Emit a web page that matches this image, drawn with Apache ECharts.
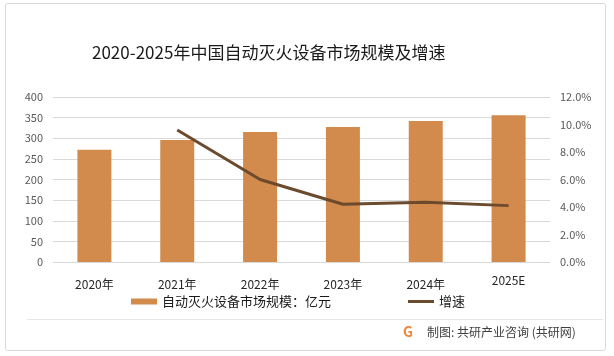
<!DOCTYPE html>
<html><head><meta charset="utf-8">
<script src="https://cdn.jsdelivr.net/npm/echarts@6/dist/echarts.min.js"></script>
<style>html,body{margin:0;padding:0;background:#fff}#c{width:614px;height:356px}</style>
</head><body><div id="c"></div>
<script>
var categories = ['2020年','2021年','2022年','2023年','2024年','2025E'];
var marketSize = [272, 296, 315, 327, 342, 356];
var growthRate = [null, 9.6, 6.0, 4.2, 4.35, 4.1];
var leftTicks = {min:0, max:400, interval:50};
var rightTicks = {min:0, max:12, interval:2};

var chart = echarts.init(document.getElementById('c'), null, {renderer:'canvas'});
var FONT = '"Noto Sans CJK SC","Noto Sans",sans-serif';
var catData = categories.map(function(c){
  return c === '2025E' ? {value:c, textStyle:{lineHeight:13}} : c;
});
chart.setOption({
  animation:false,
  backgroundColor:'#fff',
  textStyle:{fontFamily:FONT},
  title:{text:'2020-2025年中国自动灭火设备市场规模及增速', left:87, top:39,
    textStyle:{fontSize:17, fontWeight:'normal', color:'#1a1a1a', fontFamily:FONT}},
  grid:{left:53, right:64, top:97, bottom:94},
  legend:{left:131, top:295, padding:0, itemGap:77, itemWidth:26, itemHeight:6,
    textStyle:{fontSize:13, color:'#1a1a1a', fontFamily:FONT},
    data:[{name:'自动灭火设备市场规模：亿元', icon:'rect'},
          {name:'增速', icon:'path://M0,0L26,0L26,3L0,3Z'}]},
  xAxis:{type:'category', data:catData,
    axisLine:{show:false}, axisTick:{show:false},
    axisLabel:{margin:12, fontSize:12, color:'#262626', lineHeight:20, fontFamily:FONT}},
  yAxis:[
    {type:'value', min:leftTicks.min, max:leftTicks.max, interval:leftTicks.interval,
     axisLine:{show:false}, axisTick:{show:false},
     axisLabel:{margin:10, fontSize:11, color:'#595959', fontFamily:FONT},
     splitLine:{lineStyle:{color:'#d9d9d9', width:1}}},
    {type:'value', min:rightTicks.min, max:rightTicks.max, interval:rightTicks.interval,
     axisLine:{show:false}, axisTick:{show:false}, splitLine:{show:false},
     axisLabel:{margin:10, fontSize:11, color:'#595959', fontFamily:FONT,
       formatter:function(v){return v.toFixed(1)+'%';}}}
  ],
  series:[
    {name:'自动灭火设备市场规模：亿元', type:'bar', data:marketSize, barWidth:34,
     itemStyle:{color:'#D38B4D'}},
    {name:'增速', type:'line', yAxisIndex:1, data:growthRate, symbol:'none',
     lineStyle:{color:'#6B4A2E', width:3}, itemStyle:{color:'#6B4A2E'}}
  ],
  graphic:[
    {type:'rect', shape:{x:5.5, y:3.5, width:600, height:347, r:2}, silent:true,
     style:{fill:null, stroke:'#d9d9d9', lineWidth:1}},
    {type:'line', shape:{x1:27, y1:319.5, x2:603, y2:319.5}, silent:true,
     style:{stroke:'#e6e6e6', lineWidth:1}},
    {type:'text', left:403, top:325, silent:true,
     style:{text:'G', fontSize:14, fontWeight:'bold', fill:'#F0883A', fontFamily:FONT}},
    {type:'text', left:427, top:326, silent:true,
     style:{text:'制图: 共研产业咨询 (共研网)', fontSize:12, fill:'#404040', fontFamily:FONT}}
  ]
});
</script></body></html>
